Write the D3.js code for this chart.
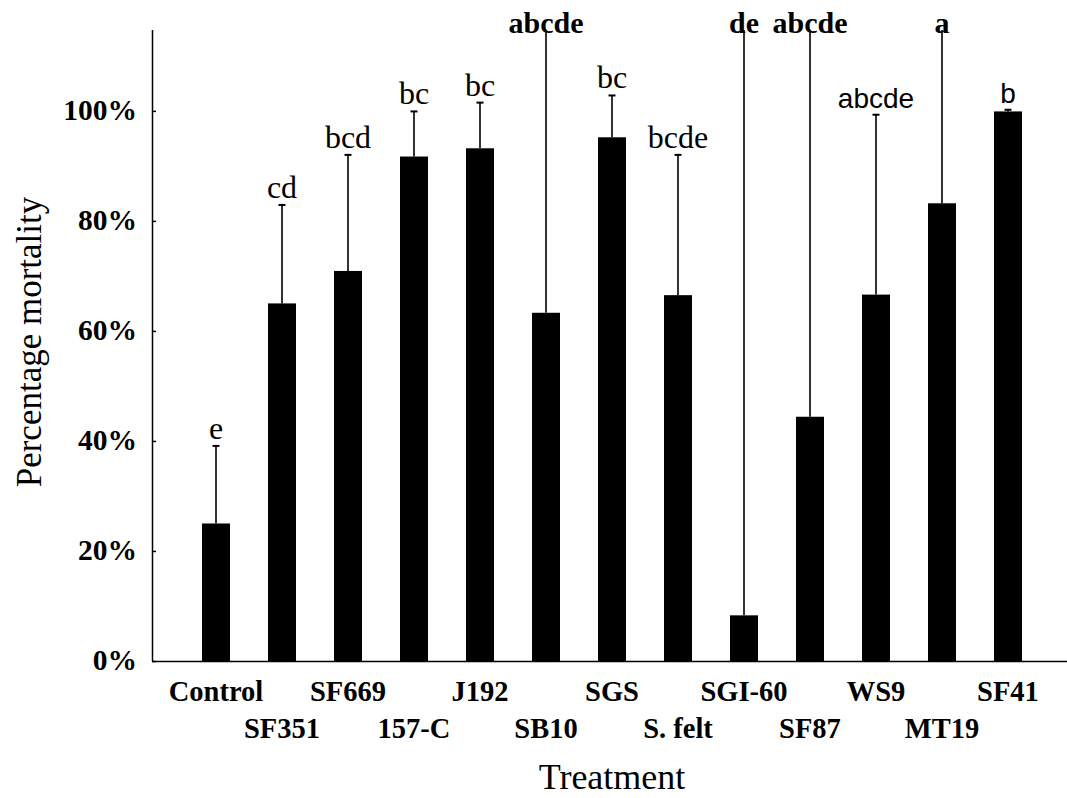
<!DOCTYPE html>
<html>
<head>
<meta charset="utf-8">
<script src="https://cdn.jsdelivr.net/npm/d3@7"></script>
<style>
  body { margin: 0; background: #fff; }
  svg { display: block; }
</style>
</head>
<body>
<svg id="viz" width="1067" height="798"></svg>
<script>
const svg = d3.select("#viz");

// treatments and values
const treatments = ["Control", "SF351", "SF669", "157-C", "J192", "SB10", "SGS",
  "S. felt", "SGI-60", "SF87", "WS9", "MT19", "SF41"];
const mortality = [0.25, 0.65, 0.709, 0.917, 0.932, 0.633, 0.952,
  0.665, 0.083, 0.444, 0.666, 0.832, 0.999];
const sd = [0.141, 0.179, 0.211, 0.082, 0.083, 0.6, 0.076,
  0.255, 1.2, 0.8, 0.327, 0.5, 0.003];
const letters = ["e", "cd", "bcd", "bc", "bc", "abcde", "bc",
  "bcde", "de", "abcde", "abcde", "a", "b"];
const yTicks = [0, 0.2, 0.4, 0.6, 0.8, 1.0];

// labels that were drawn in a sans face in the original
const sansLabels = new Set(["WS9", "SF41"]);

const serif = "'Liberation Serif', 'Times New Roman', serif";
const sans = "'Liberation Sans', Arial, sans-serif";

const x0 = 152, x1 = 1067, yBottom = 661, yTop = 30;

const x = d3.scaleBand()
  .domain(treatments)
  .range([183, 1041])
  .paddingInner(0.576)
  .paddingOuter(0.288);

const y = d3.scaleLinear()
  .domain([0, 1.147])
  .range([yBottom, yTop]);

const rows = treatments.map((t, i) => ({
  name: t, i, value: mortality[i], sd: sd[i], letter: letters[i]
}));

// bars
svg.append("g")
  .selectAll("rect")
  .data(rows)
  .enter().append("rect")
  .attr("x", d => x(d.name))
  .attr("width", x.bandwidth())
  .attr("y", d => y(d.value))
  .attr("height", d => yBottom - y(d.value))
  .attr("fill", "#000");

// error bars (upper only, clipped to the plot top)
const errTop = d => Math.min(d.value + d.sd, y.domain()[1]);
const clipped = d => d.value + d.sd > y.domain()[1];
const errG = svg.append("g").attr("stroke", "#000");

errG.selectAll("line.stem")
  .data(rows)
  .enter().append("line")
  .attr("class", "stem")
  .attr("x1", d => x(d.name) + x.bandwidth() / 2)
  .attr("x2", d => x(d.name) + x.bandwidth() / 2)
  .attr("y1", d => y(d.value))
  .attr("y2", d => y(errTop(d)))
  .attr("stroke-width", 1.6);

errG.selectAll("line.cap")
  .data(rows.filter(d => !clipped(d)))
  .enter().append("line")
  .attr("class", "cap")
  .attr("x1", d => x(d.name) + x.bandwidth() / 2 - 3.5)
  .attr("x2", d => x(d.name) + x.bandwidth() / 2 + 3.5)
  .attr("y1", d => y(errTop(d)))
  .attr("y2", d => y(errTop(d)))
  .attr("stroke-width", 2);

// significance letters
svg.append("g")
  .selectAll("text")
  .data(rows)
  .enter().append("text")
  .attr("x", d => x(d.name) + x.bandwidth() / 2)
  .attr("y", d => clipped(d) ? y(errTop(d)) + 3 : y(errTop(d)) - 7)
  .attr("text-anchor", "middle")
  .attr("font-family", d => sansLabels.has(d.name) ? sans : serif)
  .attr("font-weight", d => clipped(d) ? "bold" : "normal")
  .attr("font-size", d => sansLabels.has(d.name) ? 28 : (clipped(d) ? 30 : 32))
  .text(d => d.letter);

// y axis
const yAxis = svg.append("g")
  .attr("transform", `translate(${x0},0)`)
  .call(d3.axisRight(y).tickValues(yTicks).tickSize(4).tickFormat(""));
yAxis.select(".domain").attr("d", `M0.5,${yTop}V${yBottom}`).attr("stroke-width", 1.5);
yAxis.selectAll(".tick line").attr("stroke-width", 1.5);

svg.append("g")
  .selectAll("text")
  .data(yTicks)
  .enter().append("text")
  .attr("x", 137)
  .attr("y", d => y(d) + 9)
  .attr("text-anchor", "end")
  .attr("font-family", serif)
  .attr("font-weight", "bold")
  .attr("font-size", 29.5)
  .text(d3.format(".0%"));

// x axis line
svg.append("line")
  .attr("x1", x0).attr("x2", x1)
  .attr("y1", yBottom + 0.5).attr("y2", yBottom + 0.5)
  .attr("stroke", "#000")
  .attr("stroke-width", 1.5);

// category labels, staggered over two rows
svg.append("g")
  .selectAll("text")
  .data(rows)
  .enter().append("text")
  .attr("x", d => x(d.name) + x.bandwidth() / 2)
  .attr("y", d => d.i % 2 === 0 ? 701 : 738)
  .attr("text-anchor", "middle")
  .attr("font-family", serif)
  .attr("font-weight", "bold")
  .attr("font-size", 28.5)
  .text(d => d.name);

// axis titles
svg.append("text")
  .attr("x", 612)
  .attr("y", 789)
  .attr("text-anchor", "middle")
  .attr("font-family", serif)
  .attr("font-size", 36)
  .text("Treatment");

svg.append("text")
  .attr("transform", "translate(41,342) rotate(-90)")
  .attr("text-anchor", "middle")
  .attr("font-family", serif)
  .attr("font-size", 35)
  .text("Percentage mortality");
</script>
</body>
</html>
